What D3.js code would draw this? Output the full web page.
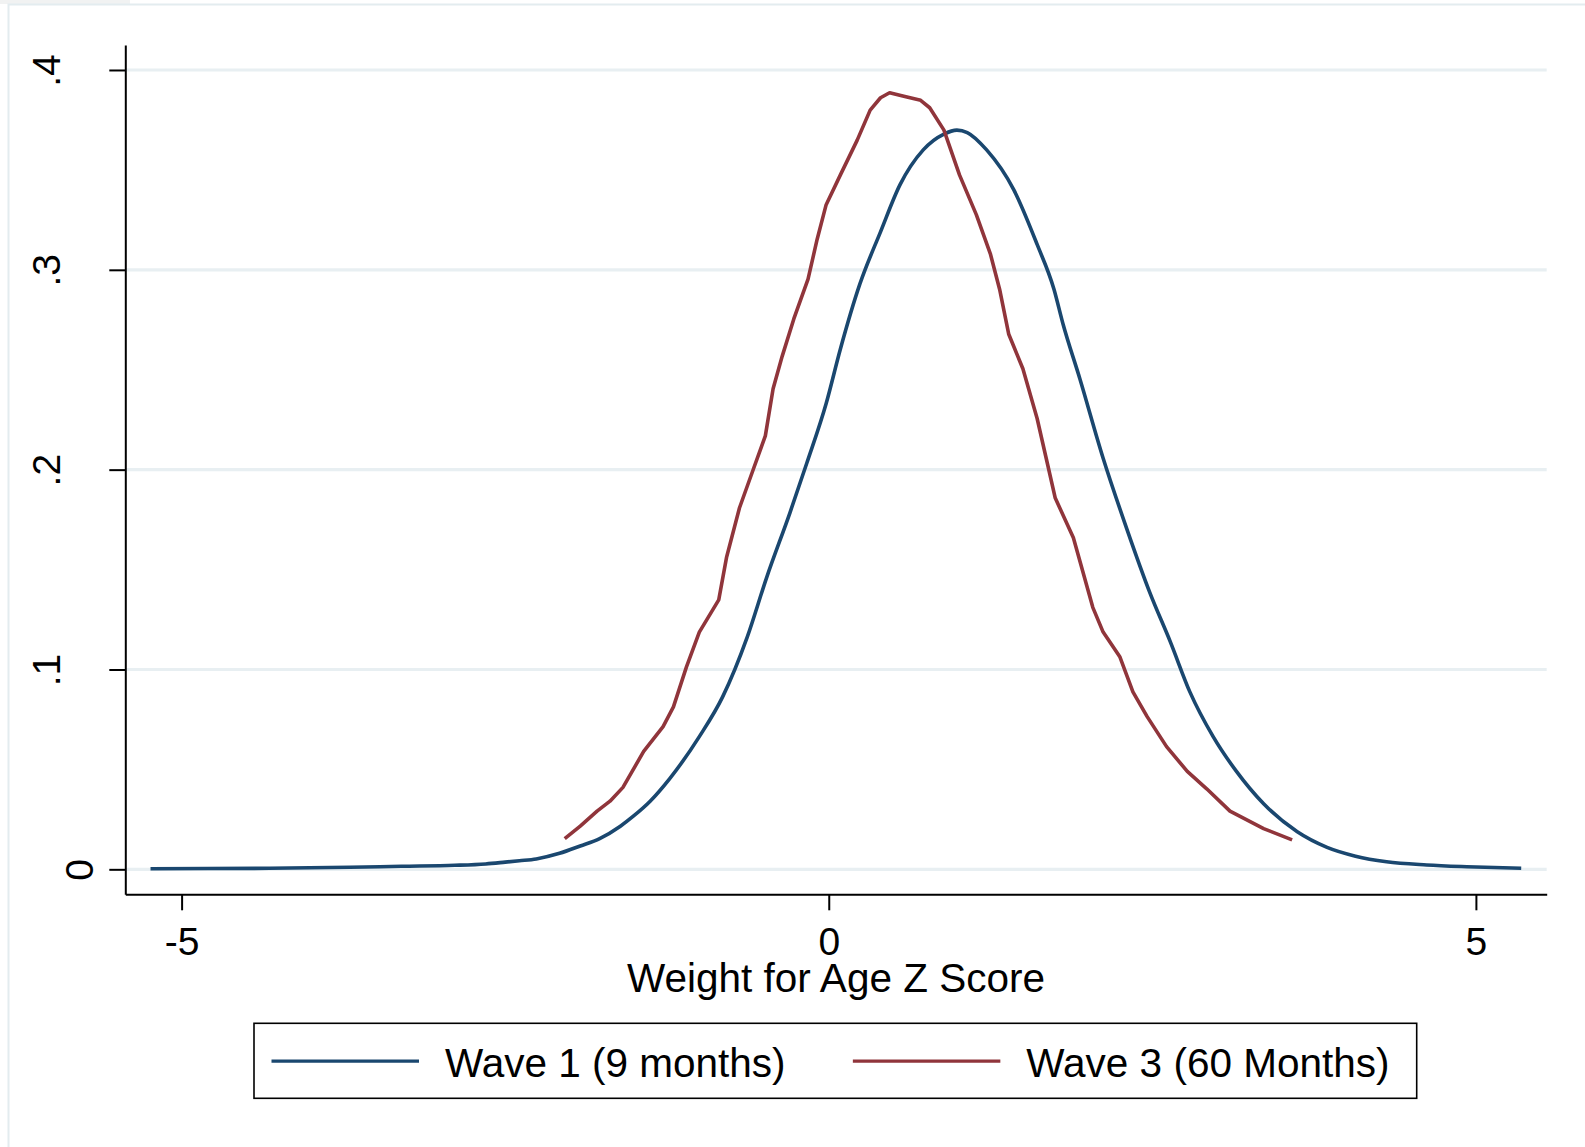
<!DOCTYPE html>
<html lang="es">
<head>
<meta charset="utf-8">
<title>Densidad - Weight for Age Z Score</title>
<script src="https://cdn.jsdelivr.net/npm/d3@7"></script>
<style>
  html, body { margin: 0; padding: 0; background: #ffffff; }
  #grafica { width: 1585px; height: 1147px; }
</style>
</head>
<body>
<div id="grafica"></div>
<script>
// ===================================================================
// BLOQUE 1: DATOS (leídos a ojo de la imagen de referencia)
// ===================================================================

// Onda 1 (9 meses): puntos de la curva de densidad (z, densidad)
const onda1Z = [-5.24, -4.8, -4.32, -3.70, -3.30, -2.89, -2.65, -2.50, -2.39, -2.26,
  -2.08, -1.92, -1.77, -1.61, -1.51, -1.38, -1.23, -1.00, -0.82, -0.63,
  -0.48, -0.30, -0.17, -0.02, 0.09, 0.24, 0.40, 0.55, 0.73, 0.89,
  0.99, 1.07, 1.22, 1.43, 1.61, 1.74, 1.81, 1.94, 2.12, 2.30,
  2.48, 2.64, 2.79, 2.97, 3.15, 3.36, 3.62, 3.85, 4.07, 4.31,
  4.62, 4.93, 5.35];
const onda1Dens = [0.0003, 0.0004, 0.0005, 0.0010, 0.0015, 0.0020, 0.0027, 0.0036, 0.0043, 0.0052,
  0.0080, 0.0117, 0.0154, 0.0216, 0.0266, 0.0341, 0.0453, 0.0664, 0.0863, 0.1162,
  0.1460, 0.1784, 0.2032, 0.2331, 0.2604, 0.2928, 0.3190, 0.3425, 0.3600, 0.3679,
  0.3699, 0.3687, 0.3600, 0.3400, 0.3127, 0.2903, 0.2729, 0.2455, 0.2057, 0.1709,
  0.1386, 0.1137, 0.0888, 0.0664, 0.0490, 0.0328, 0.0188, 0.0110, 0.0066, 0.0038,
  0.0022, 0.0013, 0.0005];

// Onda 3 (60 meses): curva más corta y más irregular
const onda3Z = [-2.04, -1.92, -1.79, -1.69, -1.59, -1.43, -1.28, -1.20, -1.10, -1.00,
  -0.85, -0.79, -0.69, -0.58, -0.49, -0.43, -0.36, -0.27, -0.16, -0.09,
  -0.02, 0.09, 0.22, 0.32, 0.40, 0.47, 0.58, 0.71, 0.78, 0.89,
  1.01, 1.14, 1.25, 1.32, 1.39, 1.50, 1.61, 1.68, 1.75, 1.89,
  2.04, 2.12, 2.25, 2.35, 2.46, 2.61, 2.77, 2.92, 3.10, 3.36,
  3.58];
const onda3Dens = [0.0154, 0.0216, 0.0291, 0.0341, 0.0410, 0.0590, 0.0714, 0.0813, 0.1012, 0.1187,
  0.1348, 0.1560, 0.1808, 0.2007, 0.2169, 0.2405, 0.2567, 0.2754, 0.2953, 0.3152,
  0.3326, 0.3475, 0.3649, 0.3799, 0.3861, 0.3886, 0.3868, 0.3848, 0.3811, 0.3699,
  0.3475, 0.3276, 0.3077, 0.2903, 0.2679, 0.2505, 0.2256, 0.2057, 0.1858, 0.1659,
  0.1311, 0.1187, 0.1062, 0.0888, 0.0764, 0.0614, 0.0490, 0.0403, 0.0291, 0.0204,
  0.0147];

// Marcas de los ejes y textos
const ticksX = [-5, 0, 5];
const etiquetasX = ["-5", "0", "5"];
const ticksY = [0, 0.1, 0.2, 0.3, 0.4];
const etiquetasY = ["0", ".1", ".2", ".3", ".4"];
const tituloX = "Weight for Age Z Score";
const nombresSeries = ["Wave 1 (9 months)", "Wave 3 (60 Months)"];
const coloresSeries = ["#1a476f", "#90353b"];

// ===================================================================
// BLOQUE 2: LIENZO Y ESCALAS
// ===================================================================
const ancho = 1585;
const alto = 1147;
const fuente = "'Liberation Sans', Arial, Helvetica, sans-serif";

const svg = d3.select("#grafica")
  .append("svg")
  .attr("width", ancho)
  .attr("height", alto)
  .attr("viewBox", `0 0 ${ancho} ${alto}`)
  .style("font-family", fuente);

// fondo blanco y el marco claro del área del gráfico (como en Stata)
svg.append("rect").attr("width", ancho).attr("height", alto).attr("fill", "#ffffff");
svg.append("rect").attr("x", 0).attr("y", 0).attr("width", 130).attr("height", 4).attr("fill", "#f1f2f2");
svg.append("path")
  .attr("d", `M8.5,${alto} V4.5 H${ancho}`)
  .attr("fill", "none")
  .attr("stroke", "#e3ecef")
  .attr("stroke-width", 2);

// región del gráfico (coordenadas de píxel)
const izq = 125.3, der = 1546.7, arriba = 45, abajo = 894.3;

const x = d3.scaleLinear().domain([-5.435, 5.547]).range([izq, der]);
const y = d3.scaleLinear().domain([-0.0125, 0.4125]).range([abajo, arriba]);

// ===================================================================
// BLOQUE 3: CUADRÍCULA Y EJES
// ===================================================================
svg.append("g")
  .selectAll("line")
  .data(ticksY)
  .enter()
  .append("line")
  .attr("x1", izq + 1)
  .attr("x2", der)
  .attr("y1", d => y(d))
  .attr("y2", d => y(d))
  .attr("stroke", "#e8eff2")
  .attr("stroke-width", 3.2);

// eje X
const ejeX = svg.append("g")
  .attr("transform", `translate(0,${abajo})`)
  .call(d3.axisBottom(x)
    .tickValues(ticksX)
    .tickSize(16)
    .tickSizeOuter(0)
    .tickPadding(17)
    .tickFormat((d, i) => etiquetasX[i]));

// eje Y (etiquetas giradas, se leen de abajo hacia arriba)
const ejeY = svg.append("g")
  .attr("transform", `translate(${izq},0)`)
  .call(d3.axisLeft(y)
    .tickValues(ticksY)
    .tickSize(16)
    .tickSizeOuter(0)
    .tickFormat((d, i) => etiquetasY[i]));

[ejeX, ejeY].forEach(eje => {
  eje.select(".domain").attr("stroke", "#000").attr("stroke-width", 2);
  eje.selectAll(".tick line").attr("stroke", "#000").attr("stroke-width", 2);
  eje.selectAll(".tick text")
    .attr("fill", "#000")
    .style("font-size", "39px")
    .style("font-family", fuente);
});

// en Stata el "0" queda más pegado al eje que las etiquetas con punto
ejeY.selectAll(".tick text")
  .attr("x", null)
  .attr("dy", null)
  .attr("text-anchor", "middle")
  .attr("transform", (d, i) => {
    const base = etiquetasY[i].startsWith(".") ? 59.5 : 92.5;
    return `translate(${base - izq},0) rotate(-90)`;
  });

// título del eje X, centrado en la región del gráfico
svg.append("text")
  .attr("x", (izq + der) / 2)
  .attr("y", 992)
  .attr("text-anchor", "middle")
  .style("font-size", "40.5px")
  .attr("fill", "#000")
  .text(tituloX);

// ===================================================================
// BLOQUE 4: CURVAS DE DENSIDAD
// ===================================================================
const series = [
  { puntos: d3.zip(onda1Z, onda1Dens), curva: d3.curveMonotoneX },
  { puntos: d3.zip(onda3Z, onda3Dens), curva: d3.curveLinear }
];

const linea = d3.line()
  .x(d => x(d[0]))
  .y(d => y(d[1]));

svg.append("g")
  .selectAll("path")
  .data(series)
  .enter()
  .append("path")
  .attr("d", d => linea.curve(d.curva)(d.puntos))
  .attr("fill", "none")
  .attr("stroke", (d, i) => coloresSeries[i])
  .attr("stroke-width", 3.6)
  .attr("stroke-linejoin", "round");

// ===================================================================
// BLOQUE 5: LEYENDA
// ===================================================================
const leyX = 254, leyY = 1023.3, leyAncho = 1162.7, leyAlto = 75;
const columna = leyAncho / nombresSeries.length;

const leyenda = svg.append("g");
leyenda.append("rect")
  .attr("x", leyX)
  .attr("y", leyY)
  .attr("width", leyAncho)
  .attr("height", leyAlto)
  .attr("fill", "#ffffff")
  .attr("stroke", "#000")
  .attr("stroke-width", 1.6);

const items = leyenda.selectAll("g.item")
  .data(nombresSeries)
  .enter()
  .append("g")
  .attr("class", "item")
  .attr("transform", (d, i) => `translate(${leyX + i * columna},${leyY})`);

items.append("line")
  .attr("x1", 17.5)
  .attr("x2", 165)
  .attr("y1", 37.8)
  .attr("y2", 37.8)
  .attr("stroke", (d, i) => coloresSeries[i])
  .attr("stroke-width", 3.4);

items.append("text")
  .attr("x", 191)
  .attr("y", 53.5)
  .style("font-size", "40.5px")
  .attr("fill", "#000")
  .text(d => d);
</script>
</body>
</html>
